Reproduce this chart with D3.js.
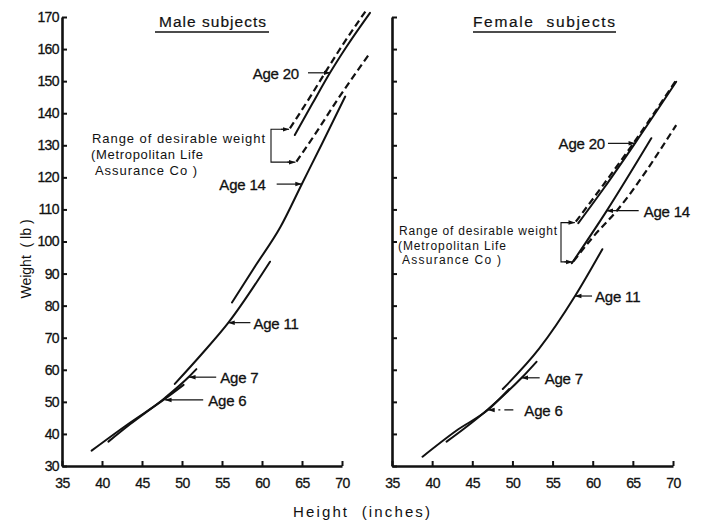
<!DOCTYPE html>
<html><head><meta charset="utf-8">
<script src="https://cdn.jsdelivr.net/npm/d3@7/dist/d3.min.js"></script>
<style>
body{margin:0;background:#fff}
svg{display:block}
text{font-family:"Liberation Sans",Arial,sans-serif;fill:#111;white-space:pre}
</style>
</head><body>
<svg id="chart" width="703" height="524"></svg>
<script>
// ---------- data (height in inches, weight in lb) ----------
const xTicks = [35, 40, 45, 50, 55, 60, 65, 70];
const yTicks = [30, 40, 50, 60, 70, 80, 90, 100, 110, 120, 130, 140, 150, 160, 170];

const maleAge6  = [[38.7,34.8],[43.1,42.8],[47.9,51.0],[50.2,55.3]];
const maleAge7  = [[40.8,37.6],[43.5,43.0],[47.9,51.3],[50.9,57.9],[51.8,60.2]];
const maleAge11 = [[49.1,55.6],[52.5,65.0],[55.8,74.7],[61.0,93.7]];
const maleAge14 = [[56.25,81.0],[59.2,92.5],[62.3,104.5],[65.0,118.0],[67.5,130.5],[70.4,145.2]];
const maleAge20 = [[64.1,133.2],[66.3,143.0],[68.5,152.6],[70.5,160.5],[73.5,171.3]];
const maleDesirableHigh = [[63.5,135.3],[66.0,145.0],[68.1,153.5],[70.0,161.0],[73.0,172.0]];
const maleDesirableLow  = [[64.3,124.9],[66.7,133.7],[69.4,144.1],[73.5,158.8]];

const femaleAge6  = [[38.8,32.9],[43.0,41.0],[47.0,47.6],[49.6,54.0]];
const femaleAge7  = [[41.8,37.6],[44.0,41.7],[47.0,47.8],[51.15,57.5],[53.0,62.5]];
const femaleAge11 = [[48.8,54.0],[53.3,66.5],[57.8,83.0],[61.2,97.6]];
const femaleAge14 = [[57.4,93.2],[61.7,109.4],[67.3,132.2]];
const femaleAge20 = [[58.2,105.7],[61.5,117.0],[65.26,130.6],[70.4,149.8]];
const femaleDesirableHigh = [[57.9,106.2],[61.3,117.6],[65.0,130.4],[70.4,150.3]];
const femaleDesirableLow  = [[57.6,93.8],[60.0,101.3],[63.0,109.6],[70.4,136.3]];

// age labels: text and the (height, weight) point the arrow touches
const maleAgeLabels = ["Age 20","Age 14","Age 11","Age 7","Age 6"];
const maleAgeTips   = [[68.5,152.6],[64.96,117.9],[55.8,74.7],[50.9,57.7],[47.9,50.6]];
const femaleAgeLabels = ["Age 20","Age 14","Age 11","Age 7","Age 6"];
const femaleAgeTips   = [[65.26,130.6],[61.74,109.6],[57.8,83.0],[51.15,57.5],[47.0,47.5]];

const rangeText = ["Range of desirable weight", "(Metropolitan Life", "Assurance Co )"];

// ---------- layout ----------
const svg = d3.select("#chart");
const yTop = 17, yBot = 466;
const y = d3.scaleLinear().domain([30,170]).range([yBot, yTop]);

const panels = [
  { title: "Male subjects", titleX: 159, titleW: 107, ulX: [155,269],
    x: d3.scaleLinear().domain([35,70]).range([62,342]), yLabels: true,
    solid: [maleAge6, maleAge7, maleAge11, maleAge14, maleAge20],
    dashed: [maleDesirableHigh, maleDesirableLow],
    labels: maleAgeLabels, tips: maleAgeTips,
    lay: [[-1,22,31],[-1,25,36],[1,22,25],[1,27,31],[1,38,43]],
    arrowDash: [null,null,null,null,null],
    fs: 15,
    bracketX: 271, rangeX: 92, rangeY: [143,159,175], rangeW: [173,112,102], rangeFs: 13
  },
  { title: "Female  subjects", titleX: 473, titleW: 142, ulX: [473,616],
    x: d3.scaleLinear().domain([35,70]).range([392,673]), yLabels: false,
    solid: [femaleAge6, femaleAge7, femaleAge11, femaleAge14, femaleAge20],
    dashed: [femaleDesirableHigh, femaleDesirableLow],
    labels: femaleAgeLabels, tips: femaleAgeTips,
    lay: [[-1,27,30],[1,32,37],[1,17,20],[1,18,23],[1,25,36]],
    arrowDash: [null,null,null,null,"9,4,2,4"],
    fs: 15,
    bracketX: 561, rangeX: 399, rangeY: [235,250,264], rangeW: [158,108,99], rangeFs: 12
  }
];

// arrow marker
const defs = svg.append("defs");
defs.append("marker").attr("id","arr").attr("viewBox","0 -4 9 8")
  .attr("refX",8.5).attr("refY",0).attr("markerWidth",7).attr("markerHeight",6)
  .attr("markerUnits","userSpaceOnUse").attr("orient","auto")
  .append("path").attr("d","M0,-3L9,0L0,3Z").attr("fill","#111");

panels.forEach(p => {
  const x = p.x;
  const g = svg.append("g");

  const ya = g.append("g").attr("transform",`translate(${x.range()[0]},0)`)
    .call(d3.axisLeft(y).tickValues(yTicks).tickSize(-5).tickSizeOuter(0).tickPadding(3)
      .tickFormat(p.yLabels ? d3.format("d") : () => ""));
  const xa = g.append("g").attr("transform",`translate(0,${yBot})`)
    .call(d3.axisBottom(x).tickValues(xTicks).tickSize(-5).tickSizeOuter(0).tickPadding(12)
      .tickFormat(d3.format("d")));
  [ya, xa].forEach(a => {
    a.select(".domain").attr("stroke","#111").attr("stroke-width",2.6);
    a.selectAll(".tick line").attr("stroke","#111").attr("stroke-width",2);
    a.selectAll(".tick text").attr("font-size",14).attr("fill","#111")
      .attr("font-family","'Liberation Sans',Arial,sans-serif").attr("letter-spacing","-0.6")
      .attr("stroke","#111").attr("stroke-width",0.3);
  });

  const line = d3.line().x(d => x(d[0])).y(d => y(d[1])).curve(d3.curveMonotoneX);
  g.selectAll("path.solid").data(p.solid).join("path").attr("class","solid")
    .attr("d", line).attr("fill","none").attr("stroke","#111").attr("stroke-width",2)
    .attr("stroke-linecap","round");
  g.selectAll("path.dash").data(p.dashed).join("path").attr("class","dash")
    .attr("d", line).attr("fill","none").attr("stroke","#111").attr("stroke-width",2.2)
    .attr("stroke-dasharray","7,4");

  p.labels.forEach((t, i) => {
    const tx = x(p.tips[i][0]), ty = y(p.tips[i][1]);
    const [side, alen, gap] = p.lay[i];
    const ln = g.append("line").attr("x1", tx + side*alen).attr("y1", ty)
      .attr("x2", tx).attr("y2", ty).attr("stroke","#111").attr("stroke-width",1.2)
      .attr("marker-end","url(#arr)");
    if (p.arrowDash[i]) ln.attr("stroke-dasharray", p.arrowDash[i]);
    g.append("text").attr("x", tx + side*gap).attr("y", ty + 6)
      .attr("text-anchor", side < 0 ? "end" : "start")
      .attr("font-size", p.fs).attr("letter-spacing","-0.2")
      .attr("stroke","#111").attr("stroke-width",0.3).text(t);
  });

  const hi = p.dashed[0][0], lo = p.dashed[1][0];
  const hx = x(hi[0]) - 1, hy = y(hi[1]) + 1, lx = x(lo[0]) - 1, ly = y(lo[1]) + 0.5;
  g.append("path").attr("d",`M${hx-6},${hy}H${p.bracketX}V${ly}H${lx-6}`)
    .attr("fill","none").attr("stroke","#111").attr("stroke-width",1.1);
  g.append("line").attr("x1",hx-8).attr("y1",hy).attr("x2",hx).attr("y2",hy)
    .attr("stroke","#111").attr("stroke-width",1.1).attr("marker-end","url(#arr)");
  g.append("line").attr("x1",lx-8).attr("y1",ly).attr("x2",lx).attr("y2",ly)
    .attr("stroke","#111").attr("stroke-width",1.1).attr("marker-end","url(#arr)");

  rangeText.forEach((t, i) => {
    g.append("text").attr("x", p.rangeX + (i === 2 ? 3 : (i === 1 ? -1 : 0))).attr("y", p.rangeY[i])
      .attr("font-size", p.rangeFs).attr("textLength", p.rangeW[i]).attr("lengthAdjust","spacing")
      .text(t);
  });

  g.append("text").attr("x", p.titleX).attr("y", 27).attr("font-size", 15.5)
    .attr("stroke","#111").attr("stroke-width",0.2)
    .attr("textLength", p.titleW).attr("lengthAdjust","spacing").text(p.title);
  g.append("line").attr("x1", p.ulX[0]).attr("x2", p.ulX[1]).attr("y1", 32).attr("y2", 32)
    .attr("stroke","#111").attr("stroke-width",1.3);
});

svg.append("text").attr("transform","translate(31,259) rotate(-90)")
  .attr("text-anchor","middle").attr("font-size",14).text("Weight  ( lb )");
svg.append("text").attr("x",293).attr("y",517).attr("font-size",15)
  .attr("textLength",137).attr("lengthAdjust","spacing").text("Height  (inches)");
</script>
</body></html>
